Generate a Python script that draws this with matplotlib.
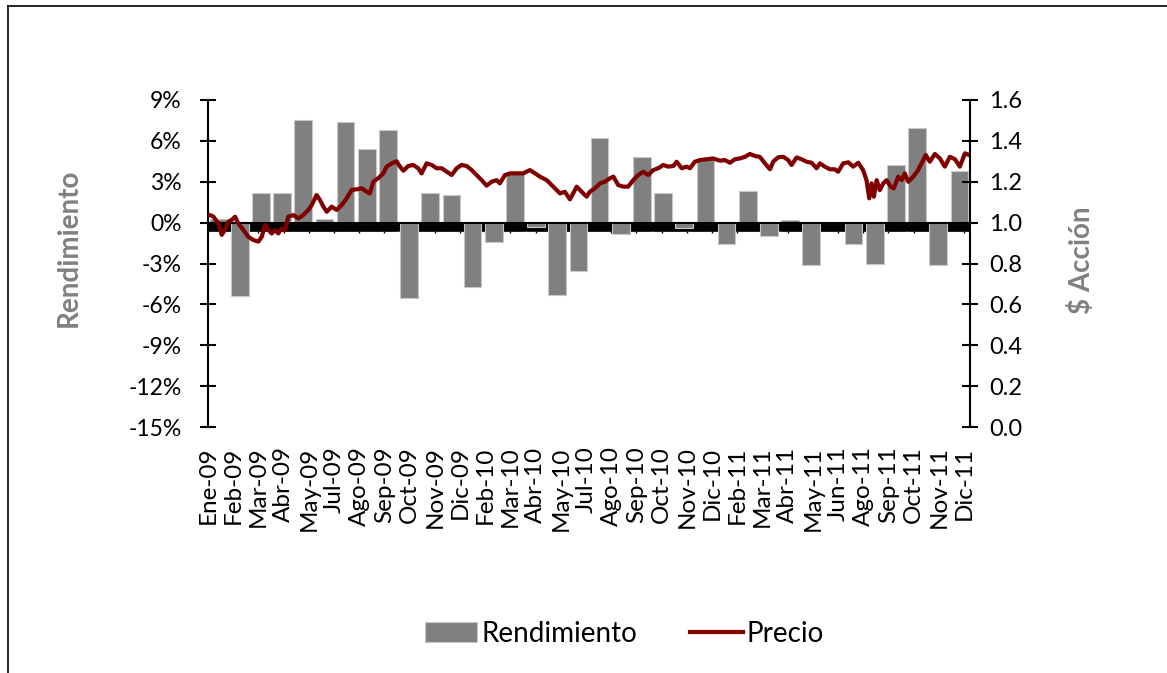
import numpy as np
import matplotlib
matplotlib.use("Agg")
import matplotlib.pyplot as plt
from matplotlib.ticker import FuncFormatter, MultipleLocator
from matplotlib.lines import Line2D

plt.rcParams['font.family'] = ['Lato', 'DejaVu Sans']

# ---------------- data ----------------
meses = ["Ene-09", "Feb-09", "Mar-09", "Abr-09", "May-09", "Jun-09", "Jul-09", "Ago-09",
         "Sep-09", "Oct-09", "Nov-09", "Dic-09",
         "Ene-10", "Feb-10", "Mar-10", "Abr-10", "May-10", "Jun-10", "Jul-10", "Ago-10",
         "Sep-10", "Oct-10", "Nov-10", "Dic-10",
         "Ene-11", "Feb-11", "Mar-11", "Abr-11", "May-11", "Jun-11", "Jul-11", "Ago-11",
         "Sep-11", "Oct-11", "Nov-11", "Dic-11"]

rendimiento = [0.3, -5.4, 2.2, 2.2, 7.5, 0.3, 7.4, 5.4, 6.8, -5.55, 2.2, 2.05,
               -4.7, -1.4, 3.6, -0.3, -5.3, -3.55, 6.2, -0.8, 4.8, 2.2, -0.4, 4.7,
               -1.55, 2.35, -0.95, 0.2, -3.1, 0.0, -1.55, -3.0, 4.2, 6.95, -3.1, 3.8]

# time of each price reading, in months since Ene-09
precio_t = [0.00, 0.25, 0.49, 0.65, 0.80, 0.96, 1.12, 1.28, 1.43, 1.67, 1.90, 2.14,
            2.38, 2.54, 2.69, 2.85, 3.01, 3.16, 3.32, 3.48, 3.64, 3.79, 4.03, 4.27,
            4.50, 4.74, 4.90, 5.13, 5.29, 5.45, 5.61, 5.84, 6.08, 6.32, 6.55, 6.79,
            7.02, 7.26, 7.50, 7.65, 7.81, 8.04, 8.28, 8.44, 8.68, 8.91, 9.07, 9.23,
            9.46, 9.70, 9.93, 10.09, 10.33, 10.57, 10.80, 11.04, 11.28, 11.51, 11.75, 11.98,
            12.22, 12.46, 12.69, 12.93, 13.16, 13.40, 13.64, 13.79, 14.03, 14.27, 14.58, 14.89,
            15.21, 15.45, 15.68, 16.00, 16.31, 16.63, 16.86, 17.10, 17.42, 17.65, 17.89, 18.04,
            18.28, 18.52, 18.75, 18.99, 19.15, 19.38, 19.62, 19.85, 20.09, 20.33, 20.56, 20.80,
            21.03, 21.27, 21.51, 21.74, 21.98, 22.14, 22.38, 22.61, 22.77, 23.00, 23.24, 23.56,
            23.87, 24.19, 24.42, 24.66, 24.89, 25.13, 25.37, 25.60, 25.84, 26.07, 26.31, 26.55,
            26.70, 26.94, 27.18, 27.41, 27.57, 27.81, 28.04, 28.28, 28.52, 28.75, 28.91, 29.14,
            29.38, 29.62, 29.77, 30.01, 30.25, 30.48, 30.72, 30.95, 31.11, 31.24, 31.35, 31.46,
            31.59, 31.74, 31.90, 32.06, 32.25, 32.40, 32.61, 32.77, 32.92, 33.08, 33.32, 33.55,
            33.71, 33.91, 34.10, 34.34, 34.58, 34.81, 35.05, 35.29, 35.52, 35.76, 35.96]

precio = [1.040, 1.030, 0.996, 0.940, 0.964, 1.004, 1.013, 1.029, 0.996, 0.964, 0.931, 0.915,
          0.907, 0.931, 0.988, 0.964, 0.947, 0.964, 0.947, 0.972, 0.964, 1.029, 1.037, 1.021,
          1.037, 1.062, 1.086, 1.135, 1.111, 1.078, 1.053, 1.078, 1.062, 1.086, 1.119, 1.160,
          1.163, 1.168, 1.151, 1.143, 1.200, 1.217, 1.241, 1.274, 1.290, 1.300, 1.274, 1.254,
          1.277, 1.282, 1.266, 1.241, 1.290, 1.282, 1.266, 1.266, 1.249, 1.233, 1.266, 1.282,
          1.277, 1.257, 1.233, 1.208, 1.181, 1.200, 1.208, 1.192, 1.233, 1.241, 1.241, 1.241,
          1.257, 1.241, 1.225, 1.208, 1.176, 1.143, 1.151, 1.114, 1.176, 1.151, 1.127, 1.151,
          1.168, 1.192, 1.200, 1.217, 1.225, 1.184, 1.176, 1.176, 1.208, 1.233, 1.249, 1.233,
          1.257, 1.266, 1.282, 1.274, 1.277, 1.298, 1.266, 1.274, 1.266, 1.298, 1.306, 1.310,
          1.314, 1.303, 1.306, 1.293, 1.310, 1.314, 1.322, 1.336, 1.326, 1.322, 1.290, 1.261,
          1.298, 1.320, 1.322, 1.306, 1.282, 1.319, 1.310, 1.298, 1.293, 1.266, 1.290, 1.274,
          1.261, 1.261, 1.249, 1.290, 1.295, 1.274, 1.293, 1.257, 1.208, 1.119, 1.192, 1.127,
          1.208, 1.159, 1.192, 1.208, 1.176, 1.168, 1.225, 1.208, 1.241, 1.200, 1.225, 1.257,
          1.290, 1.331, 1.298, 1.336, 1.314, 1.274, 1.322, 1.310, 1.274, 1.339, 1.331]

# axis tick labels (Excel shows one every 25 trading days)
etiquetas = ["Ene-09", "Feb-09", "Mar-09", "Abr-09", "May-09", "Jul-09", "Ago-09", "Sep-09",
             "Oct-09", "Nov-09", "Dic-09", "Feb-10", "Mar-10", "Abr-10", "May-10", "Jul-10",
             "Ago-10", "Sep-10", "Oct-10", "Nov-10", "Dic-10", "Feb-11", "Mar-11", "Abr-11",
             "May-11", "Jun-11", "Ago-11", "Sep-11", "Oct-11", "Nov-11", "Dic-11"]

n_dias = 756            # trading days on the category axis
n_meses = len(meses)
dia_a_mes = n_meses / n_dias

# ---------------- figure ----------------
W, H = 1167, 673
fig = plt.figure(figsize=(W / 100, H / 100), dpi=100)
ax = fig.add_axes([208 / W, 1 - 427 / H, (970 - 208) / W, (427 - 100) / H])

x_bar = np.arange(n_meses) + 0.5
bars = ax.bar(x_bar, rendimiento, width=0.84, color="#808080", edgecolor="#c8c8c8",
              linewidth=0.8, zorder=2, label="Rendimiento")

ax.set_xlim(0, n_meses)
ax.set_ylim(-15, 9)
ax.yaxis.set_major_locator(MultipleLocator(3))
ax.yaxis.set_major_formatter(FuncFormatter(lambda v, p: f"{v:.0f}%"))

for s in ("top", "right"):
    ax.spines[s].set_visible(False)
ax.spines["left"].set_linewidth(1.5)
ax.spines["bottom"].set_position(("data", 0))
ax.spines["bottom"].set_linewidth(1.5)
ax.spines["bottom"].set_zorder(3)

# dense daily tick marks on the category axis (forms the black band)
dias = np.arange(n_dias) * dia_a_mes
pos_etq = np.arange(len(etiquetas)) * 25 * dia_a_mes
ax.set_xticks(pos_etq)
ax.set_xticks(dias, minor=True)
ax.tick_params(axis="x", which="minor", direction="out", length=6, width=2.0, color="black")
ax.tick_params(axis="x", which="major", direction="out", length=7, width=1.0, color="black",
               labelbottom=False)
ax.tick_params(axis="y", direction="inout", length=12, width=1.5, labelsize=16.5, pad=13)

# labels at the bottom edge
sec = ax.secondary_xaxis("bottom")
sec.set_xticks(pos_etq, etiquetas)
sec.tick_params(axis="x", length=0, labelsize=17.5, rotation=90, pad=14)
sec.spines["bottom"].set_visible(False)

ax.set_ylabel("Rendimiento", fontsize=20, fontweight="bold", color="#808080")
ax.yaxis.set_label_coords(-0.166, 0.547)

# secondary axis: price
ax2 = ax.twinx()
line, = ax2.plot(precio_t, precio, color="#800000", linewidth=3.0, label="Precio",
                 solid_joinstyle="round")
ax2.set_ylim(0, 1.6)
ax2.yaxis.set_major_locator(MultipleLocator(0.2))
ax2.yaxis.set_major_formatter(FuncFormatter(lambda v, p: f"{v:.1f}"))
for s in ("top", "left", "bottom"):
    ax2.spines[s].set_visible(False)
ax2.spines["right"].set_linewidth(1.5)
ax2.tick_params(axis="y", direction="inout", length=12, width=1.5, labelsize=17, pad=8)
ax2.set_ylabel("$ Acción", fontsize=20, fontweight="bold", color="#808080")
ax2.yaxis.set_label_coords(1.129, 0.51)

fig.legend([bars, line], ["Rendimiento", "Precio"], loc="center",
           bbox_to_anchor=(0.535, 0.058), ncol=2, frameon=False, fontsize=20,
           handlelength=1.9, handleheight=0.75, columnspacing=1.9, handletextpad=0.15)

# outer chart border
fig.add_artist(Line2D([8 / W, 8 / W], [0, 1 - 6 / H], transform=fig.transFigure,
                      color="black", linewidth=1.2))
fig.add_artist(Line2D([8 / W, 1], [1 - 6 / H, 1 - 6 / H], transform=fig.transFigure,
                      color="black", linewidth=1.2))

fig.savefig("out.png", dpi=100)
